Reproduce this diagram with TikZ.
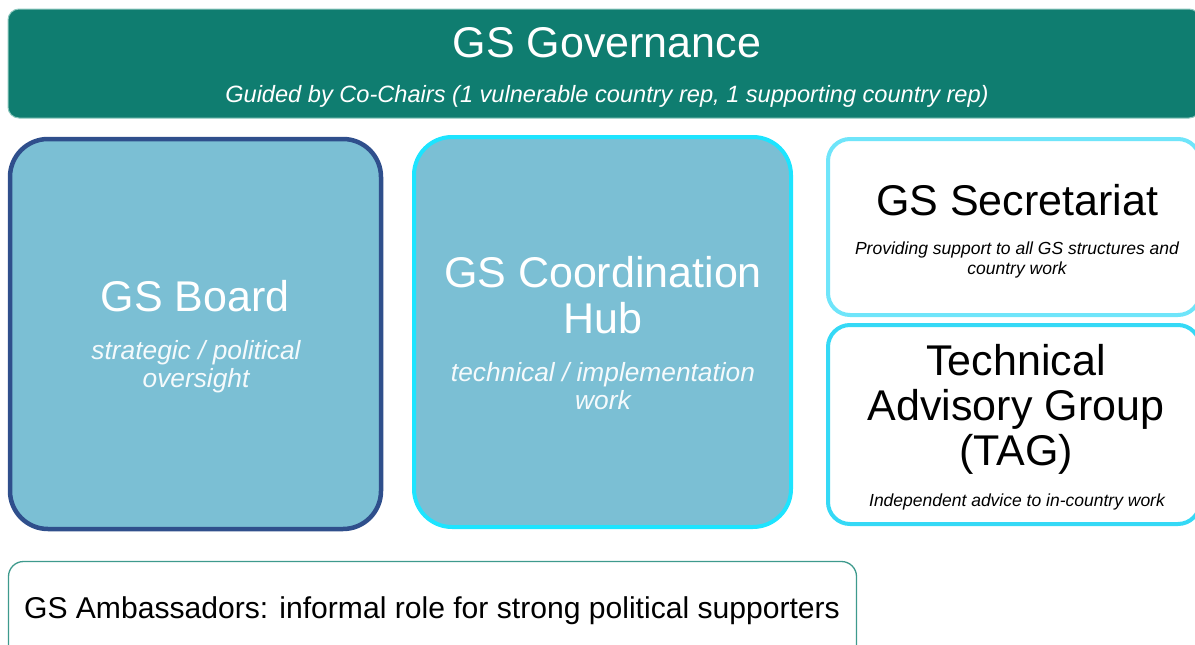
\documentclass[tikz,border=0pt]{standalone}
\usepackage{fontspec}
\setmainfont{Liberation Sans}
\definecolor{govteal}{HTML}{0F7D70}
\definecolor{govedge}{HTML}{8CC7BE}
\definecolor{boxfill}{HTML}{7BBFD4}
\definecolor{boardedge}{HTML}{2F4F8C}
\definecolor{hubedge}{HTML}{1DE4FF}
\definecolor{secedge}{HTML}{6FE5FA}
\definecolor{tagedge}{HTML}{35D9F6}
\definecolor{ambedge}{HTML}{3E9A8D}
\tikzset{
  panel/.style={rectangle, inner sep=0pt, outer sep=0pt},
  bigtxt/.style={font=\fontsize{43}{46}\selectfont, anchor=base, inner sep=0pt},
  midtxt/.style={font=\fontsize{26.3}{28}\selectfont\itshape, anchor=base, inner sep=0pt},
  smalltxt/.style={font=\fontsize{17.5}{20}\selectfont\itshape, anchor=base, inner sep=0pt},
}
\begin{document}
\begin{tikzpicture}[x=1pt,y=-1pt]
\useasboundingbox (0,0) rectangle (1195,645);
\clip (0,0) rectangle (1195,645);

% governance banner
\node[panel, fill=govteal, draw=govedge, line width=1pt, rounded corners=11pt,
      minimum width=1192pt, minimum height=109pt] (gov) at (604,63.5) {};
\node[bigtxt, text=white] (govtitle) at (607,57) {GS Governance};
\node[font=\fontsize{23.6}{26}\selectfont\itshape, anchor=base, inner sep=0pt, text=white]
      (govsub) at (607,102) {Guided by Co-Chairs (1 vulnerable country rep, 1 supporting country rep)};

% board
\node[panel, fill=boxfill, draw=boardedge, line width=4.5pt, rounded corners=38pt,
      minimum width=371pt, minimum height=390pt] (board) at (195.5,334) {};
\node[bigtxt, text=white] (boardtitle) at (195,311) {GS Board};
\node[midtxt, text=white!92!boxfill] (boardl1) at (196,359) {strategic / political};
\node[midtxt, text=white!92!boxfill] (boardl2) at (196,387) {oversight};

% coordination hub
\node[panel, fill=boxfill, draw=hubedge, line width=4pt, rounded corners=38pt,
      minimum width=377pt, minimum height=390pt] (hub) at (602.5,332) {};
\node[bigtxt, text=white] (hubt1) at (603,287) {GS Coordination};
\node[bigtxt, text=white] (hubt2) at (603,333) {Hub};
\node[midtxt, text=white!92!boxfill] (hubl1) at (603,381) {technical / implementation};
\node[midtxt, text=white!92!boxfill] (hubl2) at (603,409) {work};

% secretariat
\node[panel, fill=white, draw=secedge, line width=4pt, rounded corners=22pt,
      minimum width=372pt, minimum height=176pt] (sec) at (1014,227) {};
\node[bigtxt] (sect) at (1017,215) {GS Secretariat};
\node[smalltxt] (secl1) at (1017,254) {Providing support to all GS structures and};
\node[smalltxt] (secl2) at (1017,274) {country work};

% technical advisory group
\node[panel, fill=white, draw=tagedge, line width=4pt, rounded corners=22pt,
      minimum width=372pt, minimum height=199pt] (tag) at (1014,424.5) {};
\node[bigtxt] (tagt1) at (1016,375) {Technical};
\node[bigtxt] (tagt2) at (1016,420) {Advisory Group};
\node[bigtxt] (tagt3) at (1016,465) {(TAG)};
\node[smalltxt] (tagl1) at (1017,506) {Independent advice to in-country work};

% ambassadors
\node[panel, fill=white, draw=ambedge, line width=1.3pt, rounded corners=15pt,
      minimum width=848pt, minimum height=110pt] (amb) at (432.5,616.5) {};
\node[font=\fontsize{30.1}{32}\selectfont, anchor=base, inner sep=0pt]
      (ambt) at (432,618) {GS Ambassadors: informal role for strong political supporters};
\end{tikzpicture}
\end{document}
